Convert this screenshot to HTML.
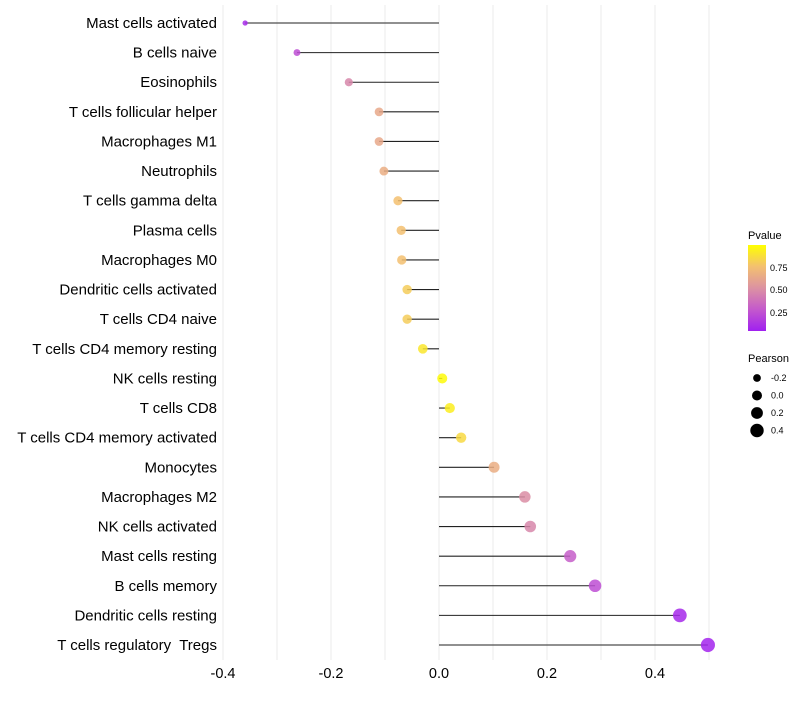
<!DOCTYPE html>
<html><head><meta charset="utf-8"><style>
body{margin:0;background:#fff;}
svg text{font-family:"Liberation Sans",sans-serif;white-space:pre;}
</style></head><body>
<svg id="chart" width="800" height="700" xmlns="http://www.w3.org/2000/svg">
<defs>
<linearGradient id="pgrad" x1="0" y1="1" x2="0" y2="0">
<stop offset="0" stop-color="#a020f0"/><stop offset="0.25" stop-color="#c459cc"/><stop offset="0.5" stop-color="#dc92a2"/><stop offset="0.75" stop-color="#f3c070"/><stop offset="1" stop-color="#ffff00"/>
</linearGradient>
</defs>
<g id="grid"></g>
<g id="marks"></g>
<g id="ylabels"></g>
<g id="xlabels"></g>
<g>
<text x="748" y="239" font-size="11" fill="#000">Pvalue</text>
<rect x="748" y="245" width="18" height="86" fill="url(#pgrad)"/>
<text x="770" y="271" font-size="9">0.75</text>
<text x="770" y="293" font-size="9">0.50</text>
<text x="770" y="316" font-size="9">0.25</text>
</g>
<g id="sizeleg">
<text x="748" y="362" font-size="11">Pearson</text>
</g>
</svg>
<script>
const categories=["Mast cells activated","B cells naive","Eosinophils","T cells follicular helper","Macrophages M1","Neutrophils","T cells gamma delta","Plasma cells","Macrophages M0","Dendritic cells activated","T cells CD4 naive","T cells CD4 memory resting","NK cells resting","T cells CD8","T cells CD4 memory activated","Monocytes","Macrophages M2","NK cells activated","Mast cells resting","B cells memory","Dendritic cells resting","T cells regulatory  Tregs"];
const pearson=[-0.359,-0.263,-0.167,-0.111,-0.111,-0.102,-0.076,-0.070,-0.069,-0.059,-0.059,-0.030,0.006,0.020,0.041,0.102,0.159,0.169,0.243,0.289,0.446,0.498];
const pvalue=[0.05,0.2,0.45,0.62,0.62,0.65,0.75,0.75,0.75,0.8,0.8,0.9,0.98,0.93,0.85,0.65,0.48,0.45,0.27,0.2,0.04,0.02];
const xTicks=[-0.4,-0.2,0.0,0.2,0.4];
const xTickLabels=["-0.4","-0.2","0.0","0.2","0.4"];
const minorTicks=[-0.3,-0.1,0.1,0.3,0.5];
const legendVals=[-0.2,0.0,0.2,0.4];
const legendLabels=["-0.2","0.0","0.2","0.4"];
const NS="http://www.w3.org/2000/svg";
const x=v=>439+v*540;
const y=i=>23+i*(622/21);
const r=v=>Math.sqrt(Math.max(1,25+50*v));
const stops=[[0,[160,32,240]],[0.25,[196,89,204]],[0.5,[220,146,162]],[0.75,[243,192,112]],[1,[255,255,0]]];
function col(p){for(let k=1;k<stops.length;k++){if(p<=stops[k][0]){const a=stops[k-1],b=stops[k];const t=(p-a[0])/(b[0]-a[0]);return 'rgb('+a[1].map((c,j)=>Math.round(c+(b[1][j]-c)*t)).join(',')+')';}}return 'rgb(255,255,0)';}
function mk(tag,attrs,parent){const e=document.createElementNS(NS,tag);for(const k in attrs)e.setAttribute(k,attrs[k]);parent.appendChild(e);return e;}
const grid=document.getElementById('grid'),marks=document.getElementById('marks'),yl=document.getElementById('ylabels'),xl=document.getElementById('xlabels'),sl=document.getElementById('sizeleg');
xTicks.concat(minorTicks).forEach(v=>{const l=mk('line',{x1:x(v),x2:x(v),y1:5,y2:660,stroke:'#ebebeb','stroke-width':1},grid);

});
xTicks.forEach((v,i)=>{const t=mk('text',{x:x(v),y:678,'font-size':14.5,'text-anchor':'middle',fill:'#000'},xl);t.textContent=xTickLabels[i];

});
categories.forEach((c,i)=>{
const t=mk('text',{x:217,y:y(i)+5,'font-size':15,'text-anchor':'end',fill:'#000'},yl);t.textContent=c;


const l=mk('line',{x1:x(0),x2:x(pearson[i]),y1:y(i),y2:y(i),stroke:'#222','stroke-width':1.1},marks);


const p=mk('circle',{cx:x(pearson[i]),cy:y(i),r:r(pearson[i]),fill:col(pvalue[i]),'fill-opacity':0.85},marks);


});
legendVals.forEach((v,i)=>{const cy=378+i*17.5;
const c=mk('circle',{cx:757,cy:cy,r:r(v),fill:'#000'},sl);


const t=mk('text',{x:771,y:cy+3,'font-size':9},sl);t.textContent=legendLabels[i];

});
</script>
</body></html>
